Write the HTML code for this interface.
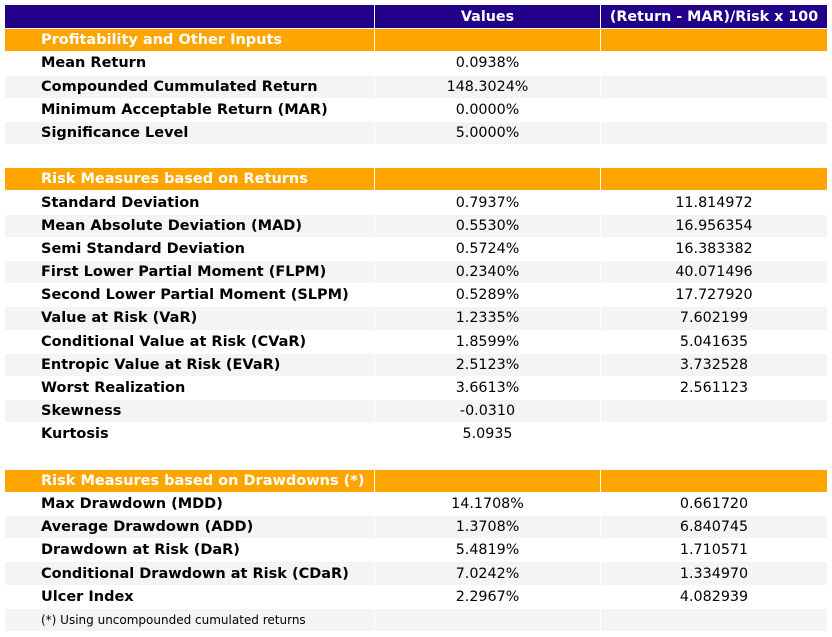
<!DOCTYPE html>
<html><head><meta charset="utf-8">
<style>
html,body{margin:0;padding:0;background:#fff;width:832px;height:637px;overflow:hidden}
#t{position:absolute;left:0;top:0;width:832px;height:637px;font-family:"DejaVu Sans","Liberation Sans",sans-serif;font-size:14.3px}
.c{position:absolute;box-sizing:border-box;display:flex;align-items:center;white-space:nowrap}
.l{padding-left:36px;font-weight:bold;color:#000;font-size:14.5px}
.v{justify-content:center;color:#000}
</style></head>
<body>
<div id="t"></div>
<script>
const rows = [
 ["hdr","","Values","(Return - MAR)/Risk x 100"],
 ["sec","Profitability and Other Inputs","",""],
 ["d","Mean Return","0.0938%",""],
 ["d","Compounded Cummulated Return","148.3024%",""],
 ["d","Minimum Acceptable Return (MAR)","0.0000%",""],
 ["d","Significance Level","5.0000%",""],
 ["blank","","",""],
 ["sec","Risk Measures based on Returns","",""],
 ["d","Standard Deviation","0.7937%","11.814972"],
 ["d","Mean Absolute Deviation (MAD)","0.5530%","16.956354"],
 ["d","Semi Standard Deviation","0.5724%","16.383382"],
 ["d","First Lower Partial Moment (FLPM)","0.2340%","40.071496"],
 ["d","Second Lower Partial Moment (SLPM)","0.5289%","17.727920"],
 ["d","Value at Risk (VaR)","1.2335%","7.602199"],
 ["d","Conditional Value at Risk (CVaR)","1.8599%","5.041635"],
 ["d","Entropic Value at Risk (EVaR)","2.5123%","3.732528"],
 ["d","Worst Realization","3.6613%","2.561123"],
 ["d","Skewness","-0.0310",""],
 ["d","Kurtosis","5.0935",""],
 ["blank","","",""],
 ["sec","Risk Measures based on Drawdowns (*)","",""],
 ["d","Max Drawdown (MDD)","14.1708%","0.661720"],
 ["d","Average Drawdown (ADD)","1.3708%","6.840745"],
 ["d","Drawdown at Risk (DaR)","5.4819%","1.710571"],
 ["d","Conditional Drawdown at Risk (CDaR)","7.0242%","1.334970"],
 ["d","Ulcer Index","2.2967%","4.082939"],
 ["foot","(*) Using uncompounded cumulated returns","",""]
];
const colX = [5,374,600,827];
const rowH = 23.185;
const t = document.getElementById('t');
let stripe = 0;
rows.forEach((r,i)=>{
  const top = 5 + i*rowH;
  let bg = '#fff', fg = '#000';
  if (r[0]==='hdr'){bg='#22008a';fg='#fff';stripe=0;}
  else if (r[0]==='sec'){bg='#ffa500';fg='#fff';stripe=0;}
  else if (r[0]==='blank'){bg='#fff';}
  else { bg = (stripe%2===1)?'#f4f4f4':'#fff'; stripe++; }
  if (r[1]==='Kurtosis') bg='#fff';
  for (let c=0;c<3;c++){
    const d = document.createElement('div');
    d.className = 'c ' + (c===0?'l':'v');
    
    
    d.style.left = (colX[c] + (c>0?1:0)) + 'px';
    d.style.width = (colX[c+1]-colX[c]-(c>0?1:0)) + 'px';
    d.style.top = (top + (i>0?1:0)) + 'px';
    d.style.height = (rowH - (i>0?1:0)) + 'px';
    d.style.background = bg;
    d.style.color = fg;
    if (r[0]==='hdr' || r[0]==='sec') d.style.fontWeight = 'bold';
    if (r[0]==='foot' && c===0){ d.style.fontWeight='normal'; d.style.fontSize='12px'; }
    d.textContent = r[c+1];
    t.appendChild(d);
  }
});
</script>
</body></html>
